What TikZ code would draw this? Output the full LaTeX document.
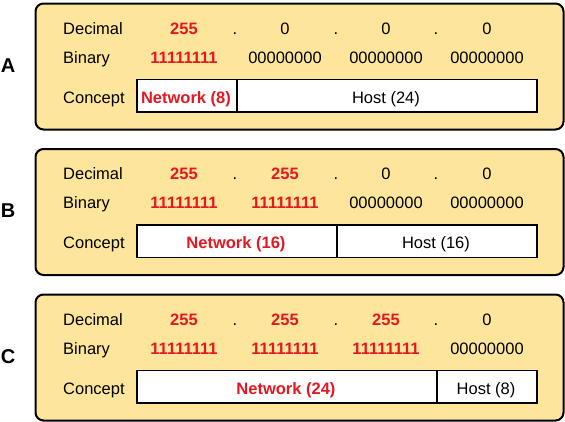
\documentclass[tikz,border=0pt]{standalone}
\usepackage{fontspec}
\setmainfont{Liberation Sans}
\definecolor{panelfill}{RGB}{253,229,156}
\definecolor{netred}{RGB}{227,24,33}
\begin{document}
\begin{tikzpicture}[x=1pt,y=-1pt,
  panel/.style={draw=black, line width=2pt, fill=panelfill, rounded corners=8pt,
    minimum width=528pt, minimum height=126pt, anchor=north west, inner sep=0pt},
  tag/.style={font=\fontsize{20}{24}\selectfont\bfseries, anchor=base, inner sep=0pt},
  txt/.style={font=\fontsize{16.5}{20}\selectfont, anchor=base, inner sep=0pt},
  rowlbl/.style={txt, anchor=base west},
  hot/.style={txt, text=netred, font=\fontsize{16.5}{20}\selectfont\bfseries},
  cell/.style={draw=black, line width=1.5pt, fill=white, minimum height=32.5pt,
    anchor=north west, inner sep=0pt},
]
\useasboundingbox (0,0) rectangle (565,421);

% ---------------- Panel A ----------------
\node[panel] (pA) at (34.5,2.5) {};
\node[tag] (tA) at (8,72) {A};
\node[rowlbl] (dA) at (63,34) {Decimal};
\node[rowlbl] (bA) at (63,63) {Binary};
\node[rowlbl] (cA) at (63,103) {Concept};
\node[hot] (dA1) at (184,34) {255};
\node[txt] (sA1) at (235,34) {.};
\node[txt] (dA2) at (285,34) {0};
\node[txt] (sA2) at (336,34) {.};
\node[txt] (dA3) at (386,34) {0};
\node[txt] (sA3) at (436,34) {.};
\node[txt] (dA4) at (487,34) {0};
\node[hot] (bA1) at (184,63) {11111111};
\node[txt] (bA2) at (285,63) {00000000};
\node[txt] (bA3) at (386,63) {00000000};
\node[txt] (bA4) at (487,63) {00000000};
\node[cell, minimum width=100pt] (nA) at (136,78.5) {};
\node[cell, minimum width=300pt] (hA) at (236,78.5) {};
\node[hot] at (186,103) {Network (8)};
\node[txt] at (386,103) {Host (24)};

% ---------------- Panel B ----------------
\node[panel] (pB) at (34.5,148) {};
\node[tag] (tB) at (8,217.5) {B};
\node[rowlbl] (dB) at (63,179.5) {Decimal};
\node[rowlbl] (bB) at (63,208.5) {Binary};
\node[rowlbl] (cB) at (63,248.5) {Concept};
\node[hot] (dB1) at (184,179.5) {255};
\node[txt] (sB1) at (235,179.5) {.};
\node[hot] (dB2) at (285,179.5) {255};
\node[txt] (sB2) at (336,179.5) {.};
\node[txt] (dB3) at (386,179.5) {0};
\node[txt] (sB3) at (436,179.5) {.};
\node[txt] (dB4) at (487,179.5) {0};
\node[hot] (bB1) at (184,208.5) {11111111};
\node[hot] (bB2) at (285,208.5) {11111111};
\node[txt] (bB3) at (386,208.5) {00000000};
\node[txt] (bB4) at (487,208.5) {00000000};
\node[cell, minimum width=200pt] (nB) at (136,224) {};
\node[cell, minimum width=200pt] (hB) at (336,224) {};
\node[hot] at (236,248.5) {Network (16)};
\node[txt] at (436,248.5) {Host (16)};

% ---------------- Panel C ----------------
\node[panel] (pC) at (34.5,293.5) {};
\node[tag] (tC) at (8,363) {C};
\node[rowlbl] (dC) at (63,325) {Decimal};
\node[rowlbl] (bC) at (63,354) {Binary};
\node[rowlbl] (cC) at (63,394) {Concept};
\node[hot] (dC1) at (184,325) {255};
\node[txt] (sC1) at (235,325) {.};
\node[hot] (dC2) at (285,325) {255};
\node[txt] (sC2) at (336,325) {.};
\node[hot] (dC3) at (386,325) {255};
\node[txt] (sC3) at (436,325) {.};
\node[txt] (dC4) at (487,325) {0};
\node[hot] (bC1) at (184,354) {11111111};
\node[hot] (bC2) at (285,354) {11111111};
\node[hot] (bC3) at (386,354) {11111111};
\node[txt] (bC4) at (487,354) {00000000};
\node[cell, minimum width=300pt] (nC) at (136,369.5) {};
\node[cell, minimum width=100pt] (hC) at (436,369.5) {};
\node[hot] at (286,394) {Network (24)};
\node[txt] at (486,394) {Host (8)};
\end{tikzpicture}
\end{document}
